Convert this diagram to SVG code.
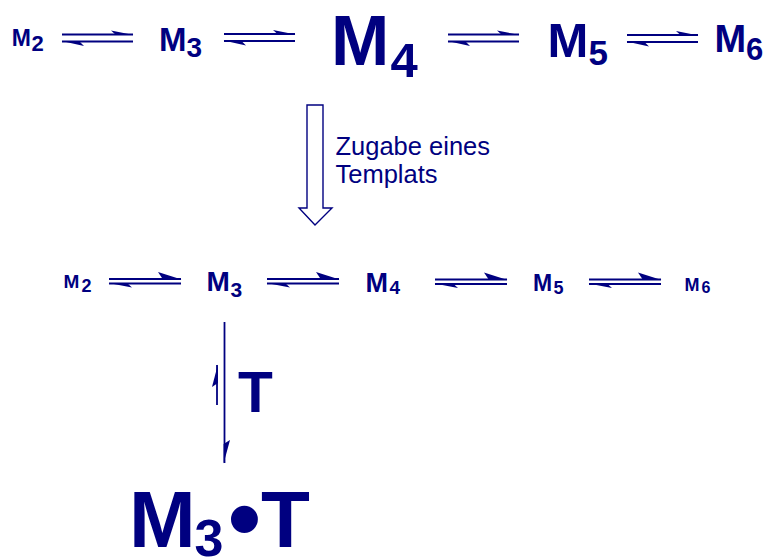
<svg xmlns="http://www.w3.org/2000/svg" width="764" height="558" viewBox="0 0 764 558">
<style>
.lbl{font-family:"Liberation Sans",Arial,Helvetica,sans-serif;font-weight:bold;fill:#000080}
.txt{font-family:"Liberation Sans",Arial,Helvetica,sans-serif;fill:#000080}
.ln{stroke:#000080;stroke-width:1.8;fill:none}
.barb{fill:#000080;stroke:none}
.block{fill:#fff;stroke:#000080;stroke-width:1.4}
</style>
<defs>
<g id="eqTop">
<line class="ln" x1="0" y1="0" x2="71" y2="0"/>
<line class="ln" x1="0" y1="7" x2="71" y2="7"/>
<polygon class="barb" points="49,-4 71.5,0.5 54,0.5"/>
<polygon class="barb" points="-0.5,6.5 22,11.5 17,6.5"/>
</g>
<g id="eqMid">
<line class="ln" x1="0" y1="0" x2="72" y2="0"/>
<line class="ln" x1="0" y1="4.5" x2="72" y2="4.5"/>
<polygon class="barb" points="49,-7 72.5,0.5 54,0.5"/>
<polygon class="barb" points="-0.5,4 23,8.5 18,4"/>
</g>
</defs>
<g id="top-M2"><text class="lbl"><tspan x="11.8" y="46" font-size="23">M</tspan><tspan x="31.5" y="51" font-size="22">2</tspan></text></g>
<g id="top-M3"><text class="lbl"><tspan x="159" y="51" font-size="33">M</tspan><tspan x="186.5" y="57" font-size="28">3</tspan></text></g>
<g id="top-M4"><text class="lbl"><tspan x="331" y="65" font-size="70">M</tspan><tspan x="390.5" y="77" font-size="49">4</tspan></text></g>
<g id="top-M5"><text class="lbl"><tspan x="547.5" y="57" font-size="49">M</tspan><tspan x="588.5" y="65" font-size="35">5</tspan></text></g>
<g id="top-M6"><text class="lbl"><tspan x="714.5" y="52" font-size="38">M</tspan><tspan x="746" y="60" font-size="31">6</tspan></text></g>
<g id="step-label"><text class="txt" font-size="25.5"><tspan x="335.5" y="155">Zugabe eines</tspan><tspan x="335.5" y="183">Templats</tspan></text></g>
<g id="mid-M2"><text class="lbl"><tspan x="63.5" y="288" font-size="19">M</tspan><tspan x="81.5" y="292" font-size="18">2</tspan></text></g>
<g id="mid-M3"><text class="lbl"><tspan x="206.5" y="291" font-size="28">M</tspan><tspan x="230.5" y="297" font-size="21">3</tspan></text></g>
<g id="mid-M4"><text class="lbl"><tspan x="365.5" y="292" font-size="27">M</tspan><tspan x="389.6" y="294" font-size="19">4</tspan></text></g>
<g id="mid-M5"><text class="lbl"><tspan x="533" y="291" font-size="23">M</tspan><tspan x="553.5" y="294" font-size="18">5</tspan></text></g>
<g id="mid-M6"><text class="lbl"><tspan x="684.5" y="291" font-size="18">M</tspan><tspan x="701.5" y="293" font-size="16">6</tspan></text></g>
<g id="T-label"><text class="lbl" x="238" y="412" font-size="57">T</text></g>
<g id="M3T"><text class="lbl"><tspan x="129" y="547" font-size="80">M</tspan><tspan x="194.5" y="556" font-size="52">3</tspan><tspan x="228" y="551" font-size="94">•</tspan><tspan x="261" y="547" font-size="80">T</tspan></text></g>
<g id="connectors">
<use href="#eqTop" x="62" y="34.5"/>
<use href="#eqTop" x="224" y="34"/>
<use href="#eqTop" x="448" y="34.5"/>
<use href="#eqTop" x="627" y="35"/>
<path class="block" d="M307,105 H323 V208 H332 L315,225 L299,208 H307 Z"/>
<use href="#eqMid" x="109" y="279"/>
<use href="#eqMid" x="267" y="279"/>
<use href="#eqMid" x="435" y="279.5"/>
<use href="#eqMid" x="589" y="279.5"/>
<line class="ln" x1="224.5" y1="322" x2="224.5" y2="463"/>
<polygon class="barb" points="223.6,463.5 230,440 223.6,444"/>
<line class="ln" x1="217" y1="365" x2="217" y2="405"/>
<polygon class="barb" points="217.9,364.5 212,387 217.9,383"/>
</g>
</svg>
